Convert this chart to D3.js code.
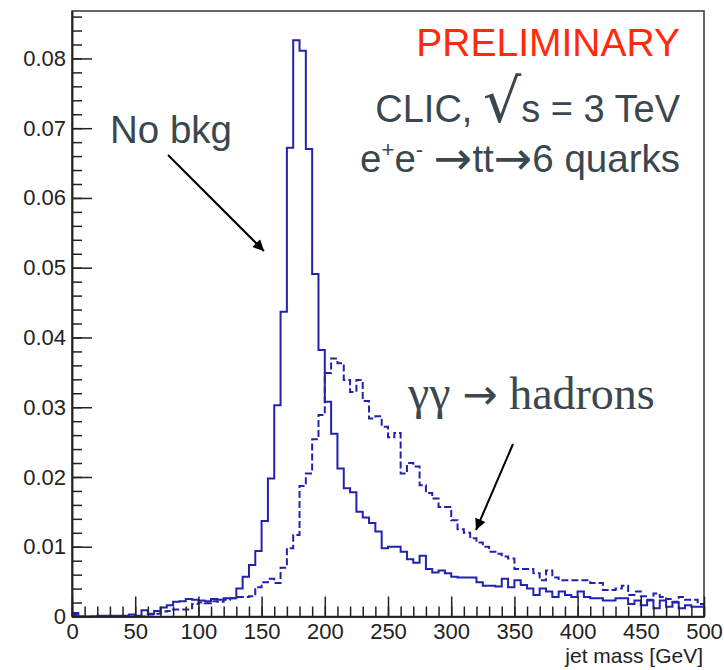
<!DOCTYPE html>
<html>
<head>
<meta charset="utf-8">
<script src="https://cdn.jsdelivr.net/npm/d3@7"></script>
<style>
  body { margin: 0; background: #fff; }
  text { font-family: "Liberation Sans", Arial, sans-serif; }
</style>
</head>
<body>
<svg width="724" height="670"></svg>
<script>
// jet mass bins, 5 GeV wide
var binLow = d3.range(0, 500, 5);

// e+e- -> tt -> 6 quarks, no background (solid)
var noBkg = [
  0.0005, 0, 0, 0, 0.0001, 0.0001, 0.0001, 0.0001, 0.0001, 0.0003,
  0.0001, 0.0009, 0.0004, 0.0008, 0.0013, 0.0016, 0.0021, 0.0022, 0.0025, 0.0024,
  0.0023, 0.0022, 0.0025, 0.0024, 0.0026, 0.0026, 0.0040, 0.0057, 0.0074, 0.0094,
  0.0137, 0.0198, 0.0303, 0.0437, 0.0672, 0.0826, 0.0811, 0.0670, 0.0491, 0.0382,
  0.0308, 0.0262, 0.0212, 0.0184, 0.0178, 0.0150, 0.0142, 0.0134, 0.0122, 0.0098,
  0.0100, 0.0100, 0.0093, 0.0082, 0.0077, 0.0087, 0.0068, 0.0063, 0.0066, 0.0062,
  0.0057, 0.0056, 0.0056, 0.0056, 0.0049, 0.0044, 0.0044, 0.0043, 0.0054, 0.0042,
  0.0052, 0.0045, 0.0040, 0.0031, 0.0040, 0.0036, 0.0028, 0.0036, 0.0031, 0.0028,
  0.0036, 0.0028, 0.0026, 0.0026, 0.0023, 0.0023, 0.0026, 0.0026, 0.0018, 0.0023,
  0.0016, 0.0023, 0.0012, 0.0023, 0.0014, 0.0020, 0.0012, 0.0016, 0.0014, 0.0014
];

// with gamma gamma -> hadrons overlay (dashed)
var withBkg = [
  0.0002, 0, 0, 0, 0, 0, 0, 0, 0, 0,
  0, 0, 0.0003, 0.0004, 0.0007, 0.0008, 0.0010, 0.0010, 0.0010, 0.0018,
  0.0020, 0.0019, 0.0022, 0.0021, 0.0024, 0.0026, 0.0028, 0.0028, 0.0029, 0.0042,
  0.0049, 0.0054, 0.0048, 0.0070, 0.0098, 0.0117, 0.0187, 0.0205, 0.0254, 0.0289,
  0.0349, 0.0370, 0.0363, 0.0339, 0.0322, 0.0339, 0.0309, 0.0284, 0.0287, 0.0272,
  0.0257, 0.0263, 0.0205, 0.0220, 0.0215, 0.0188, 0.0177, 0.0169, 0.0157, 0.0157,
  0.0138, 0.0125, 0.0120, 0.0112, 0.0106, 0.0100, 0.0093, 0.0090, 0.0086, 0.0083,
  0.0068, 0.0068, 0.0068, 0.0062, 0.0052, 0.0066, 0.0056, 0.0052, 0.0052, 0.0052,
  0.0052, 0.0052, 0.0048, 0.0048, 0.0038, 0.0038, 0.0040, 0.0044, 0.0031, 0.0036,
  0.0029, 0.0024, 0.0033, 0.0028, 0.0025, 0.0021, 0.0028, 0.0024, 0.0024, 0.0018
];

var xTicks = [0, 50, 100, 150, 200, 250, 300, 350, 400, 450, 500];
var xMinor = d3.range(0, 501, 10);
var yTicks = [0, 0.01, 0.02, 0.03, 0.04, 0.05, 0.06, 0.07, 0.08];
var yMinor = d3.range(0, 0.0869, 0.002);

var svg = d3.select("svg"),
    plotL = 72, plotR = 704, plotT = 11, plotB = 616.5;

var x = d3.scaleLinear().domain([0, 500]).range([plotL, plotR]);
var y = d3.scaleLinear().domain([0, 0.0868]).range([plotB, plotT]);

var blue = "#2222b0",
    slate = "#3b474f";

svg.append("rect").attr("width", 724).attr("height", 670).attr("fill", "#fff");

svg.append("clipPath").attr("id", "clip")
  .append("rect").attr("x", plotL).attr("y", plotT).attr("width", plotR - plotL).attr("height", plotB - plotT);

// histograms
function steps(vals) {
  var pts = [[0, 0]];
  vals.forEach(function(v, i) { pts.push([binLow[i], v]); });
  pts.push([500, vals[vals.length - 1]]);
  pts.push([500, 0]);
  return pts;
}
var line = d3.line()
    .x(function(d) { return x(d[0]); })
    .y(function(d) { return y(d[1]); })
    .curve(d3.curveStepAfter);

var hg = svg.append("g").attr("clip-path", "url(#clip)");
hg.append("path").attr("d", line(steps(withBkg)))
    .attr("fill", "none").attr("stroke", blue).attr("stroke-width", 2)
    .attr("stroke-dasharray", "7,3");
hg.append("path").attr("d", line(steps(noBkg)))
    .attr("fill", "none").attr("stroke", blue).attr("stroke-width", 2);

// frame
svg.append("rect").attr("x", plotL).attr("y", plotT)
    .attr("width", plotR - plotL).attr("height", plotB - plotT)
    .attr("fill", "none").attr("stroke", "#333").attr("stroke-width", 1.5);

// axes: ticks point inward
function styleAxis(g) {
  g.select(".domain").attr("stroke", "#222").attr("stroke-width", 1.5);
  g.selectAll(".tick line").attr("stroke", "#222").attr("stroke-width", 1.5);
  g.selectAll(".tick text").attr("fill", "#222").style("font-size", "22px")
    .style("font-family", "'Liberation Sans', Arial, sans-serif");
}

svg.append("g").attr("transform", "translate(0," + plotB + ")")
    .call(d3.axisBottom(x).tickValues(xMinor).tickSize(-10).tickSizeOuter(0).tickFormat(""))
    .call(styleAxis);
svg.append("g").attr("transform", "translate(0," + plotB + ")")
    .call(d3.axisBottom(x).tickValues(xTicks).tickSize(-20).tickSizeOuter(0).tickPadding(7))
    .call(styleAxis);

svg.append("g").attr("transform", "translate(" + plotL + ",0)")
    .call(d3.axisLeft(y).tickValues(yMinor).tickSize(-10).tickSizeOuter(0).tickFormat(""))
    .call(styleAxis);
svg.append("g").attr("transform", "translate(" + plotL + ",0)")
    .call(d3.axisLeft(y).tickValues(yTicks).tickSize(-20).tickSizeOuter(0).tickPadding(6)
      .tickFormat(function(d) { return d === 0 ? "0" : d3.format(".2f")(d); }))
    .call(styleAxis);

svg.append("text").attr("x", 703).attr("y", 663).attr("text-anchor", "end")
    .style("font-size", "21px").attr("fill", "#222").text("jet mass [GeV]");

// labels
svg.append("text").attr("x", 680).attr("y", 56).attr("text-anchor", "end")
    .style("font-size", "39px").attr("fill", "#ff2a0a").text("PRELIMINARY");

var clic = svg.append("text").attr("x", 680).attr("y", 122).attr("text-anchor", "end")
    .style("font-size", "38px").attr("fill", slate);
clic.append("tspan").text("CLIC, ");
clic.append("tspan").style("font-size", "60px").style("font-family", "'DejaVu Sans', sans-serif").text("\u221A");
clic.append("tspan").text("s = 3 TeV");

var proc = svg.append("text").attr("x", 680).attr("y", 172).attr("text-anchor", "end")
    .style("font-size", "38.5px").attr("fill", slate);
proc.append("tspan").text("e");
proc.append("tspan").attr("dy", -15).style("font-size", "22px").text("+");
proc.append("tspan").attr("dy", 15).text("e");
proc.append("tspan").attr("dy", -15).style("font-size", "22px").text("-");
proc.append("tspan").attr("dy", 15).text(" ");
proc.append("tspan").attr("dy", 2).style("font-family", "'DejaVu Sans', sans-serif").style("font-size", "46px").text("\u2192");
proc.append("tspan").attr("dy", -2).text("tt");
proc.append("tspan").attr("dy", 2).style("font-family", "'DejaVu Sans', sans-serif").style("font-size", "46px").text("\u2192");
proc.append("tspan").attr("dy", -2).text("6 quarks");

svg.append("text").attr("x", 110).attr("y", 143)
    .style("font-size", "38.5px").attr("fill", slate).text("No bkg");

var gg = svg.append("text").attr("x", 408).attr("y", 409)
    .style("font-family", "'Liberation Serif', 'DejaVu Serif', serif")
    .style("font-size", "46px").attr("fill", slate);
gg.append("tspan").style("font-size", "48px").text("\u03B3\u03B3 ");
gg.append("tspan").style("font-family", "'DejaVu Sans', sans-serif").style("font-size", "42px").text("\u2192");
gg.append("tspan").text(" hadrons");

// arrows
svg.append("defs").append("marker")
    .attr("id", "head").attr("markerUnits", "userSpaceOnUse")
    .attr("viewBox", "0 0 10 10").attr("refX", 10).attr("refY", 5)
    .attr("markerWidth", 14).attr("markerHeight", 11).attr("orient", "auto")
  .append("path").attr("d", "M0,0L10,5L0,10Z").attr("fill", "#000");

var arrows = [
  [[168, 155], [264, 251]],
  [[513, 444], [476, 530]]
];
svg.selectAll(".arrow").data(arrows).enter().append("line")
    .attr("class", "arrow")
    .attr("x1", function(d) { return d[0][0]; }).attr("y1", function(d) { return d[0][1]; })
    .attr("x2", function(d) { return d[1][0]; }).attr("y2", function(d) { return d[1][1]; })
    .attr("stroke", "#000").attr("stroke-width", 2)
    .attr("marker-end", "url(#head)");
</script>
</body>
</html>
